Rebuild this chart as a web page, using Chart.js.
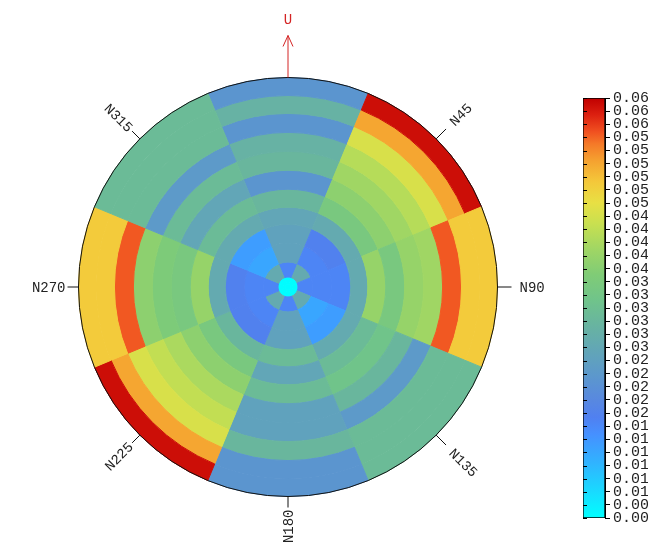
<!DOCTYPE html>
<html>
<head>
<meta charset="utf-8">
<script src="https://cdn.jsdelivr.net/npm/chart.js@4.4.1/dist/chart.umd.min.js"></script>
<style>
  html, body { margin: 0; padding: 0; background: #fff; }
  #wrap { position: relative; width: 648px; height: 554px; }
  #rose { position: absolute; left: 0; top: 0; }
  #bar { position: absolute; left: 560px; top: 0; }
</style>
</head>
<body>
<div id="wrap">
  <canvas id="rose" width="648" height="554"></canvas>
  <canvas id="bar" width="88" height="554"></canvas>
</div>
<script>
// --- data ---
// sectors, clockwise from north, each 45 degrees wide
const sectors = ['N0', 'N45', 'N90', 'N135', 'N180', 'N225', 'N270', 'N315'];
const sectorWidths = [45, 45, 45, 45, 45, 45, 45, 45];

// radial bin edges (centre disc + 11 rings)
const ringEdges = [0, 10, 25, 44, 63, 80, 98, 117, 136, 155, 174, 192, 210];

// values per ring, in sector order [N0, N45, N90, N135, N180, N225, N270, N315]
const ring00 = [0.002, 0.002, 0.002, 0.002, 0.002, 0.002, 0.002, 0.002];
const ring01 = [0.015, 0.026, 0.015, 0.026, 0.015, 0.026, 0.015, 0.026];
const ring02 = [0.024, 0.015, 0.015, 0.011, 0.024, 0.015, 0.015, 0.011];
const ring03 = [0.024, 0.016, 0.015, 0.012, 0.024, 0.016, 0.016, 0.012];
const ring04 = [0.025, 0.026, 0.026, 0.026, 0.030, 0.029, 0.026, 0.026];
const ring05 = [0.029, 0.034, 0.038, 0.030, 0.025, 0.034, 0.038, 0.030];
const ring06 = [0.021, 0.037, 0.034, 0.032, 0.030, 0.037, 0.034, 0.025];
const ring07 = [0.029, 0.039, 0.038, 0.029, 0.024, 0.040, 0.035, 0.030];
const ring08 = [0.028, 0.041, 0.039, 0.022, 0.024, 0.042, 0.037, 0.022];
const ring09 = [0.021, 0.044, 0.055, 0.030, 0.029, 0.044, 0.055, 0.030];
const ring10 = [0.028, 0.051, 0.048, 0.030, 0.021, 0.051, 0.048, 0.030];
const ring11 = [0.021, 0.059, 0.048, 0.030, 0.021, 0.059, 0.048, 0.030];
const rings = [ring00, ring01, ring02, ring03, ring04, ring05, ring06, ring07, ring08, ring09, ring10, ring11];

// direction labels round the rose
const dirAngles = [45, 90, 135, 180, 225, 270, 315];
const dirLabels = ['N45', 'N90', 'N135', 'N180', 'N225', 'N270', 'N315'];
const northLabel = 'U';

// colour bar range and tick labels (bottom to top)
const vmin = 0.0018;
const vmax = 0.0600;
const barLabels = ['0.00', '0.00',
  '0.01', '0.01', '0.01', '0.01', '0.01', '0.01',
  '0.02', '0.02', '0.02', '0.02', '0.02',
  '0.03', '0.03', '0.03', '0.03', '0.03', '0.03',
  '0.04', '0.04', '0.04', '0.04', '0.04',
  '0.05', '0.05', '0.05', '0.05', '0.05', '0.05',
  '0.06', '0.06', '0.06'];

// --- styles ---
const colorStops = [
  [0.00, '#00ffff'], [0.06, '#18dcff'], [0.13, '#30b4ff'], [0.20, '#4690ff'],
  [0.24, '#5080f0'], [0.28, '#5888e0'], [0.34, '#5c98cc'], [0.40, '#62a6b6'],
  [0.46, '#68b4a0'], [0.52, '#70c48a'], [0.58, '#80cc76'], [0.64, '#a0d664'],
  [0.70, '#c8e050'], [0.75, '#e8e044'], [0.80, '#f4c83a'], [0.85, '#f5a230'],
  [0.89, '#f57a28'], [0.92, '#f05020'], [0.96, '#dc2010'], [1.00, '#c00000']
];
const FONT = '"Liberation Mono", "DejaVu Sans Mono", monospace';

function hexRgb(h) {
  return [parseInt(h.slice(1, 3), 16), parseInt(h.slice(3, 5), 16), parseInt(h.slice(5, 7), 16)];
}

function valueToColor(v) {
  let f = (v - vmin) / (vmax - vmin);
  f = Math.max(0, Math.min(1, f));
  for (let i = 1; i < colorStops.length; i++) {
    if (f <= colorStops[i][0]) {
      const [f0, c0] = colorStops[i - 1];
      const [f1, c1] = colorStops[i];
      const t = (f - f0) / (f1 - f0);
      const a = hexRgb(c0), b = hexRgb(c1);
      const m = a.map((x, k) => Math.round(x + (b[k] - x) * t));
      return `rgb(${m[0]},${m[1]},${m[2]})`;
    }
  }
  return colorStops[colorStops.length - 1][1];
}

// outer ring first: chart.js draws dataset 0 as the outermost doughnut ring
const datasets = rings.map((vals, k) => {
  const cols = vals.map(valueToColor);
  return {
    data: sectorWidths,
    weight: ringEdges[k + 1] - ringEdges[k],
    backgroundColor: cols,
    borderColor: cols,
    borderWidth: 1
  };
}).reverse();

// compass ticks, labels and the north arrow
const overlay = {
  id: 'overlay',
  afterDraw(chart) {
    const arc = chart.getDatasetMeta(0).data[0];
    const cx = arc.x, cy = arc.y, R = arc.outerRadius;
    const c = chart.ctx;
    c.save();
    c.strokeStyle = '#111';
    c.lineWidth = 1;
    c.beginPath();
    c.arc(cx, cy, R, 0, Math.PI * 2);
    c.stroke();

    c.font = '14px ' + FONT;
    c.fillStyle = '#222';
    c.textBaseline = 'middle';
    dirAngles.forEach((deg, i) => {
      const a = deg * Math.PI / 180;
      const sx = Math.sin(a), sy = -Math.cos(a);
      const right = deg < 180;
      const tick = right ? 14 : 11;
      const gap = right ? 22 : 13;
      c.beginPath();
      c.moveTo(cx + sx * R, cy + sy * R);
      c.lineTo(cx + sx * (R + tick), cy + sy * (R + tick));
      c.stroke();
      c.save();
      c.translate(cx + sx * (R + gap), cy + sy * (R + gap));
      if (right) {
        c.rotate((deg - 90) * Math.PI / 180);
        c.textAlign = 'left';
      } else {
        c.rotate((deg - 270) * Math.PI / 180);
        c.textAlign = 'right';
      }
      c.fillText(dirLabels[i], 0, 1);
      c.restore();
    });

    // north arrow
    c.strokeStyle = '#d42424';
    c.fillStyle = '#d42424';
    c.beginPath();
    c.moveTo(cx, cy - R);
    c.lineTo(cx, cy - R - 42);
    c.moveTo(cx - 5, cy - R - 31);
    c.lineTo(cx, cy - R - 42);
    c.lineTo(cx + 5, cy - R - 31);
    c.stroke();
    c.textAlign = 'center';
    c.font = '14px ' + FONT;
    c.fillText(northLabel, cx, cy - R - 57);
    c.restore();
  }
};

new Chart(document.getElementById('rose'), {
  type: 'doughnut',
  data: { labels: sectors, datasets: datasets },
  options: {
    responsive: false,
    animation: false,
    cutout: 0,
    rotation: -22.5,
    layout: { padding: { left: 78, right: 150, top: 77, bottom: 57 } },
    plugins: { legend: { display: false }, tooltip: { enabled: false } },
    events: []
  },
  plugins: [overlay]
});

// colour bar: a single floating bar spanning the value range
const innerTicks = {
  id: 'innerTicks',
  afterDatasetsDraw(chart) {
    const y = chart.scales.y, area = chart.chartArea, c = chart.ctx;
    c.save();
    c.strokeStyle = '#000';
    c.lineWidth = 1;
    y.ticks.forEach(t => {
      const py = Math.round(y.getPixelForValue(t.value)) + 0.5;
      c.beginPath();
      c.moveTo(area.left, py);
      c.lineTo(area.left + 4, py);
      c.stroke();
    });
    c.restore();
  }
};

new Chart(document.getElementById('bar'), {
  type: 'bar',
  data: {
    labels: [''],
    datasets: [{
      data: [[vmin, vmax]],
      backgroundColor(ctx) {
        const area = ctx.chart.chartArea;
        if (!area) return 'transparent';
        const g = ctx.chart.ctx.createLinearGradient(0, area.bottom, 0, area.top);
        colorStops.forEach(s => g.addColorStop(s[0], s[1]));
        return g;
      },
      borderColor: '#000',
      borderWidth: 1,
      borderSkipped: false,
      barPercentage: 1,
      categoryPercentage: 1
    }]
  },
  options: {
    responsive: false,
    animation: false,
    layout: { padding: { left: 23, top: 98, bottom: 36, right: 0 } },
    plugins: { legend: { display: false }, tooltip: { enabled: false } },
    events: [],
    scales: {
      x: { display: false },
      y: {
        position: 'right',
        min: vmin,
        max: vmax,
        afterBuildTicks(scale) {
          scale.ticks = barLabels.map((_, i) => ({ value: vmin + i * (vmax - vmin) / (barLabels.length - 1) }));
        },
        afterFit(scale) { scale.width = 43; },
        ticks: {
          autoSkip: false,
          padding: 3,
          color: '#222',
          font: { family: FONT, size: 15 },
          callback: (v, i) => barLabels[i]
        },
        grid: { drawOnChartArea: false, tickLength: 5, color: '#000' },
        border: { display: true, color: '#000' }
      }
    }
  },
  plugins: [innerTicks]
});
</script>
</body>
</html>
